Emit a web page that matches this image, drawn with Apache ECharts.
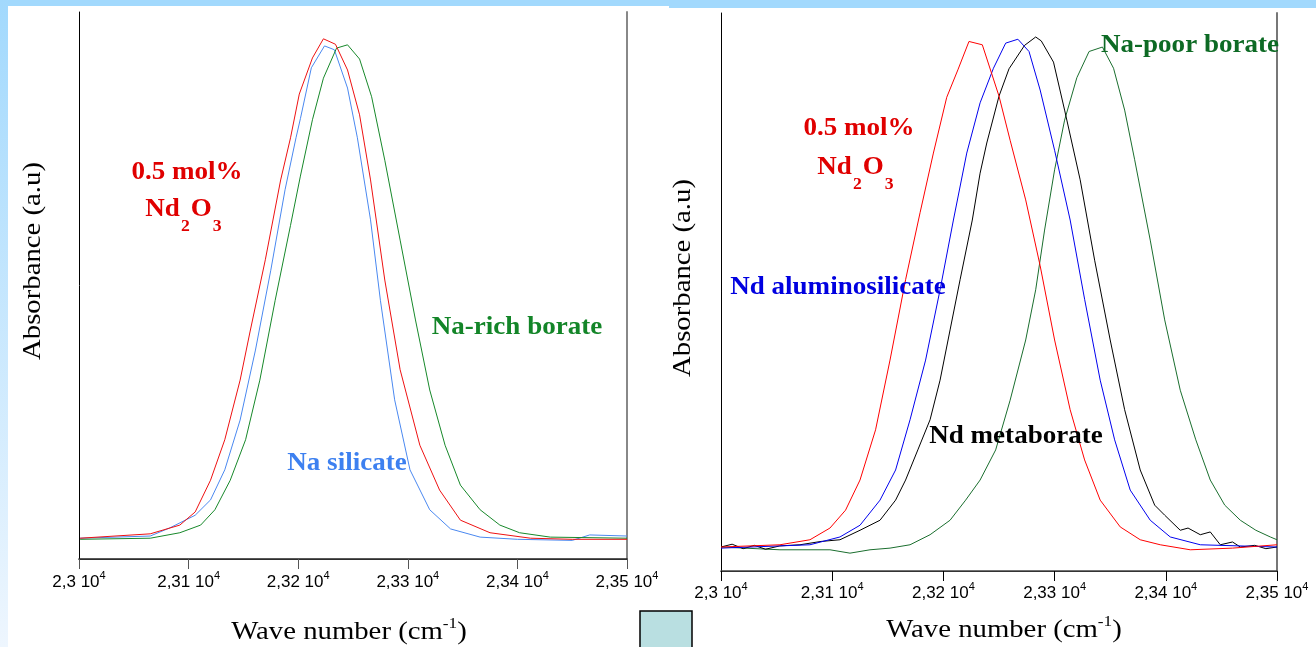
<!DOCTYPE html>
<html><head><meta charset="utf-8">
<script src="https://cdn.jsdelivr.net/npm/echarts@6/dist/echarts.min.js"></script>
<style>html,body{margin:0;padding:0;background:#fff}#c{width:1316px;height:647px}</style>
</head><body><div id="c"></div>
<script>
// tick labels (mantissa part, "x 10^4")
const tickValues = [23000, 23100, 23200, 23300, 23400, 23500];
const tickLabels = ['2,3', '2,31', '2,32', '2,33', '2,34', '2,35'];

// Left panel: 0.5 mol% Nd2O3 in different glasses
const leftRed = [[23001,3.8],[23065,4.6],[23092,6.2],[23106,8.6],[23120,14.4],[23133,21.8],[23147,32.7],[23156,41.5],[23170,54.7],[23184,69.3],[23193,77.0],[23201,85.0],[23213,91.6],[23223,95.1],[23234,94.1],[23245,89.4],[23256,81.2],[23266,69.3],[23279,51.0],[23293,34.6],[23311,20.8],[23329,12.6],[23348,7.1],[23375,4.8],[23412,3.8],[23450,3.6],[23500,3.6]];
const leftBlue = [[23001,3.8],[23065,4.2],[23083,5.7],[23106,8.0],[23120,10.8],[23133,16.3],[23147,25.4],[23161,38.2],[23175,52.8],[23188,67.5],[23198,77.0],[23202,80.5],[23212,89.8],[23224,93.8],[23233,93.1],[23245,86.1],[23254,77.0],[23266,62.0],[23275,47.3],[23288,29.1],[23302,16.3],[23320,9.0],[23339,5.5],[23366,4.0],[23400,3.6],[23450,3.4],[23466,4.4],[23500,4.2]];
const leftGreen = [[23001,3.6],[23065,3.8],[23092,4.8],[23111,6.2],[23124,9.0],[23138,14.4],[23152,21.8],[23165,32.7],[23179,47.3],[23193,61.0],[23202,70.0],[23213,80.3],[23223,87.9],[23235,93.4],[23245,94.0],[23256,91.4],[23267,84.5],[23279,72.9],[23293,58.3],[23307,43.7],[23320,30.9],[23334,20.8],[23348,13.5],[23366,9.0],[23384,6.2],[23402,4.8],[23430,4.0],[23500,3.8]];

// Right panel
const rightRed = [[23000,4.3],[23053,4.7],[23080,5.6],[23098,7.7],[23112,10.9],[23125,16.3],[23139,25.3],[23152,37.8],[23166,52.2],[23179,64.2],[23191,74.9],[23203,84.9],[23213,89.8],[23223,94.9],[23235,94.3],[23250,85.1],[23260,77.2],[23274,66.5],[23287,54.7],[23300,41.4],[23314,28.9],[23327,19.9],[23341,12.7],[23359,7.9],[23377,5.6],[23395,4.7],[23422,3.8],[23460,4.1],[23500,4.7]];
const rightBlue = [[23000,4.1],[23080,4.7],[23107,6.1],[23125,8.2],[23143,12.7],[23157,18.1],[23170,27.1],[23184,37.8],[23197,50.4],[23209,62.9],[23221,74.9],[23233,83.9],[23245,90.1],[23256,94.6],[23267,95.3],[23277,93.1],[23287,86.2],[23300,75.4],[23314,62.9],[23327,48.7],[23341,34.2],[23354,23.5],[23368,14.5],[23386,9.1],[23404,6.1],[23431,4.7],[23500,4.3]];
const rightBlack = [[23000,4.3],[23010,4.8],[23020,4.0],[23030,4.6],[23040,3.9],[23053,4.5],[23071,4.7],[23090,5.3],[23107,5.6],[23125,7.3],[23143,9.1],[23157,12.7],[23166,16.3],[23177,21.7],[23188,27.1],[23197,34.2],[23206,43.2],[23215,52.2],[23226,62.9],[23233,71.3],[23239,76.7],[23250,85.1],[23259,90.0],[23273,94.2],[23283,95.7],[23288,95.0],[23299,91.2],[23309,82.6],[23323,70.1],[23336,55.7],[23350,41.4],[23363,28.9],[23377,18.1],[23390,11.8],[23399,10.0],[23413,7.3],[23420,7.7],[23431,6.5],[23440,7.0],[23449,4.7],[23460,5.2],[23467,4.3],[23480,4.6],[23490,4.0],[23500,4.3]];
const rightGreen = [[23000,4.3],[23053,3.8],[23098,3.8],[23116,3.2],[23134,3.8],[23152,4.1],[23170,4.7],[23188,6.5],[23206,9.1],[23220,12.7],[23233,16.3],[23247,21.7],[23260,30.6],[23274,41.4],[23283,50.4],[23291,61.1],[23300,71.9],[23309,80.8],[23320,88.4],[23331,93.1],[23343,93.9],[23353,90.1],[23363,82.6],[23372,73.7],[23386,59.3],[23399,45.0],[23413,32.4],[23427,23.5],[23440,16.3],[23453,11.8],[23467,9.1],[23481,7.3],[23494,6.1],[23500,5.6]];

const chart = echarts.init(document.getElementById('c'), null, {renderer: 'canvas'});
const SERIF = '"Liberation Serif","Times New Roman",serif';
const SANS = '"Liberation Sans",Arial,sans-serif';

function tickFmt(v) {
  const i = tickValues.indexOf(Math.round(v));
  return i < 0 ? '' : '{a|' + tickLabels[i] + ' 10}{b|4}';
}
const tickRich = {
  a: {fontFamily: SANS, fontSize: 17, color: '#000', lineHeight: 22},
  b: {fontFamily: SANS, fontSize: 11, color: '#000', lineHeight: 10, padding: [0, 0, 12, 0]}
};

function bottomX(grid, lineColor, margin) {
  return {type: 'value', gridIndex: grid, min: 23000, max: 23500, interval: 100, position: 'bottom',
    axisLine: {show: true, lineStyle: {color: lineColor, width: 1}},
    axisTick: {show: true, inside: false, length: 10, lineStyle: {color: lineColor}},
    axisLabel: {show: true, margin: margin, formatter: tickFmt, rich: tickRich},
    splitLine: {show: false}};
}
function topX(grid, c) {
  return {type: 'value', gridIndex: grid, min: 23000, max: 23500, position: 'top',
    axisLine: {show: true, lineStyle: {color: c, width: 1.5}}, axisTick: {show: false},
    axisLabel: {show: false}, splitLine: {show: false}};
}
function yAx(grid, pos, c, w) {
  return {type: 'value', gridIndex: grid, min: 0, max: 100, position: pos,
    axisLine: {show: true, onZero: false, lineStyle: {color: c, width: w}}, axisTick: {show: false},
    axisLabel: {show: false}, splitLine: {show: false}};
}
function line(name, data, color, xi, yi) {
  return {type: 'line', name: name, data: data, xAxisIndex: xi, yAxisIndex: yi, symbol: 'none',
    smooth: false, lineStyle: {color: color, width: 1}, z: 3, animation: false};
}
function txt(x, y, text, color, size, bold, extra) {
  return Object.assign({type: 'text', x: x, y: y, z: 10, scaleX: 1.04, style: {text: text, fill: color,
    font: (bold ? 'bold ' : '') + size + 'px ' + SERIF, textAlign: 'center', textVerticalAlign: 'middle'}}, extra || {});
}
function ndo(x, y, color) {
  return {type: 'text', x: x, y: y, z: 10, scaleX: 1.04, style: {
    text: '{a|Nd}{s|2}{a|O}{s|3}', textAlign: 'center', textVerticalAlign: 'middle',
    rich: {a: {fontFamily: SERIF, fontWeight: 'bold', fontSize: 26, fill: color, lineHeight: 28},
           s: {fontFamily: SERIF, fontWeight: 'bold', fontSize: 17, fill: color, lineHeight: 17, padding: [36, 1, 0, 1]}}}};
}
function xTitle(x, y) {
  return {type: 'text', x: x, y: y, z: 10, scaleX: 1.15, style: {
    text: '{a|Wave number (cm}{s|-1}{a|)}', textAlign: 'center', textVerticalAlign: 'middle',
    rich: {a: {fontFamily: SERIF, fontSize: 25, fill: '#000', lineHeight: 28},
           s: {fontFamily: SERIF, fontSize: 15, fill: '#000', lineHeight: 15, padding: [0, 0, 16, 0]}}}};
}

chart.setOption({
  animation: false,
  grid: [
    {left: 79, top: 12, width: 548, height: 547},
    {left: 721, top: 13, width: 556, height: 558}
  ],
  xAxis: [bottomX(0, '#555', 12), topX(0, '#222'), bottomX(1, '#000', 11), topX(1, '#444')],
  yAxis: [yAx(0, 'left', '#000', 1), yAx(0, 'right', '#888', 2), yAx(1, 'left', '#000', 1), yAx(1, 'right', '#777', 2)],
  series: [
    line('Na silicate', leftBlue, '#4a88f0', 0, 0),
    line('Na-rich borate', leftGreen, '#17882a', 0, 0),
    line('0.5 mol% left', leftRed, '#ee1111', 0, 0),
    line('Na-poor borate', rightGreen, '#1a6e2e', 2, 2),
    line('Nd metaborate', rightBlack, '#000000', 2, 2),
    line('Nd aluminosilicate', rightBlue, '#0000ee', 2, 2),
    line('0.5 mol% right', rightRed, '#ff0000', 2, 2)
  ],
  graphic: [
    {type: 'rect', shape: {x: 0, y: 0, width: 669, height: 6}, style: {fill: '#a2d9fd'}, z: 0},
    {type: 'rect', shape: {x: 669, y: 0, width: 647, height: 8}, style: {fill: '#a2d9fd'}, z: 0},
    {type: 'rect', shape: {x: 0, y: 0, width: 8, height: 647}, z: 0,
      style: {fill: new echarts.graphic.LinearGradient(0, 0, 0, 1, [{offset: 0, color: '#a2d9fd'}, {offset: 1, color: '#eef6fe'}])}},
    {type: 'rect', shape: {x: 640, y: 611, width: 52, height: 40}, style: {fill: '#b9dfe1', stroke: '#000', lineWidth: 1.5}, z: 10},
    txt(187, 172, '0.5 mol%', '#e00000', 26, true),
    ndo(184, 209, '#e00000'),
    txt(517, 327, 'Na-rich borate', '#138528', 26, true),
    txt(347, 463, 'Na silicate', '#3d80f0', 26, true),
    txt(859, 128, '0.5 mol%', '#e00000', 26, true),
    ndo(856, 167, '#e00000'),
    txt(838, 287, 'Nd aluminosilicate', '#0000e0', 26, true),
    txt(1016, 436, 'Nd metaborate', '#000000', 26, true),
    txt(1190, 45, 'Na-poor borate', '#0d6a24', 26, true),
    xTitle(349, 632),
    xTitle(1004, 630),
    txt(33, 261, 'Absorbance (a.u)', '#000', 25, false, {rotation: Math.PI / 2, scaleX: 1.15}),
    txt(683, 278, 'Absorbance (a.u)', '#000', 25, false, {rotation: Math.PI / 2, scaleX: 1.15})
  ]
});
</script></body></html>
